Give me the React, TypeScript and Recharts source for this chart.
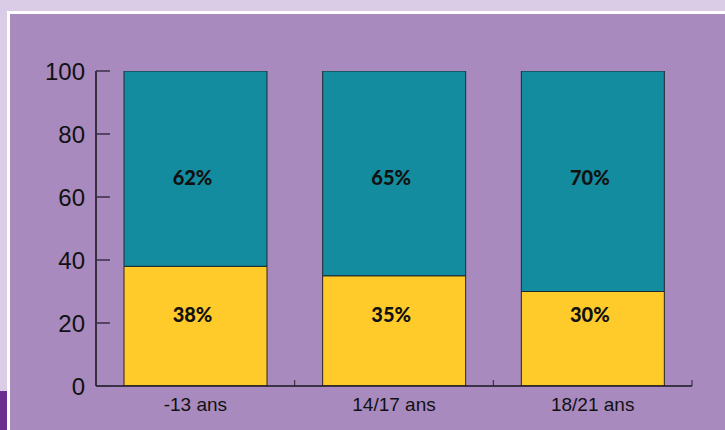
import React from 'react';
import { BarChart, Bar, XAxis, YAxis, LabelList } from 'recharts';

const ageGroups = ['-13 ans', '14/17 ans', '18/21 ans'];
const yellowShare = [38, 35, 30];
const tealShare = [62, 65, 70];
const yTicks = [0, 20, 40, 60, 80, 100];

const data = ageGroups.map((age, i) => ({
  age,
  yellow: yellowShare[i],
  teal: tealShare[i],
}));

const AXIS_FONT = '"Liberation Sans", Arial, sans-serif';
const LABEL_FONT = 'Lato, "Open Sans", sans-serif';
const X_TICK_MARGIN = 12;

// category label plus a small upward tick at the right edge of the band
const XTick = (props: any) => {
  const { x, y, payload } = props;
  const half = payload && payload.offset ? payload.offset : 0;
  const axisY = y - X_TICK_MARGIN;
  return (
    <g>
      {half > 0 && (
        <line x1={x + half} x2={x + half} y1={axisY - 6} y2={axisY} stroke="#2b2233" strokeWidth={1} />
      )}
      <text
        x={x}
        y={y}
        dy="0.71em"
        textAnchor="middle"
        fill="#111"
        fontSize={19}
        fontFamily={AXIS_FONT}
      >
        {payload.value}
      </text>
    </g>
  );
};

const topLabel = (props: any) => {
  const { x, y, width, value } = props;
  return (
    <text
      x={x + width / 2 - 3}
      y={y + 106}
      textAnchor="middle"
      dominantBaseline="central"
      fontFamily={LABEL_FONT}
      fontWeight={900}
      fontSize={20}
      fill="#111"
    >
      {value}%
    </text>
  );
};

const bottomLabel = (props: any) => {
  const { x, y, width, height, value } = props;
  return (
    <text
      x={x + width / 2 - 3}
      y={y + height - 72}
      textAnchor="middle"
      dominantBaseline="central"
      fontFamily={LABEL_FONT}
      fontWeight={900}
      fontSize={20}
      fill="#111"
    >
      {value}%
    </text>
  );
};

export default function App() {
  return (
    <div style={{ position: 'absolute', left: 0, top: 0, width: 725, height: 430, background: '#dacce6', overflow: 'hidden' }}>
      <div style={{ position: 'absolute', left: 7, top: 11, right: 0, bottom: 0, background: '#ffffff' }} />
      <div style={{ position: 'absolute', left: 10, top: 14, right: 0, bottom: 0, background: '#a88abf' }} />
      <div style={{ position: 'absolute', left: 0, top: 391, width: 7, bottom: 0, background: '#6b2d8f' }} />
      <div style={{ position: 'absolute', left: 0, top: 0 }}>
        <BarChart
          width={725}
          height={430}
          data={data}
          margin={{ top: 71, right: 33, left: 0, bottom: 0 }}
          barSize={143}
        >
          <XAxis
            dataKey="age"
            height={44}
            axisLine={{ stroke: '#1a1420', strokeWidth: 1.5 }}
            tickLine={false}
            tickSize={0}
            tickMargin={X_TICK_MARGIN}
            tick={<XTick />}
            interval={0}
          />
          <YAxis
            width={96}
            domain={[0, 100]}
            ticks={yTicks}
            allowDataOverflow
            axisLine={{ stroke: '#111', strokeWidth: 1.5 }}
            tickLine={{ stroke: '#3a2d45', strokeWidth: 1.5 }}
            tickSize={-14}
            tickMargin={25}
            tick={{ fill: '#111', fontSize: 24, fontFamily: AXIS_FONT }}
          />
          <Bar dataKey="yellow" stackId="a" fill="#fecb2a" stroke="#2a2224" strokeWidth={1} isAnimationActive={false}>
            <LabelList dataKey="yellow" content={bottomLabel} />
          </Bar>
          <Bar dataKey="teal" stackId="a" fill="#128c9e" stroke="#1c2a30" strokeWidth={1} isAnimationActive={false}>
            <LabelList dataKey="teal" content={topLabel} />
          </Bar>
        </BarChart>
      </div>
    </div>
  );
}
